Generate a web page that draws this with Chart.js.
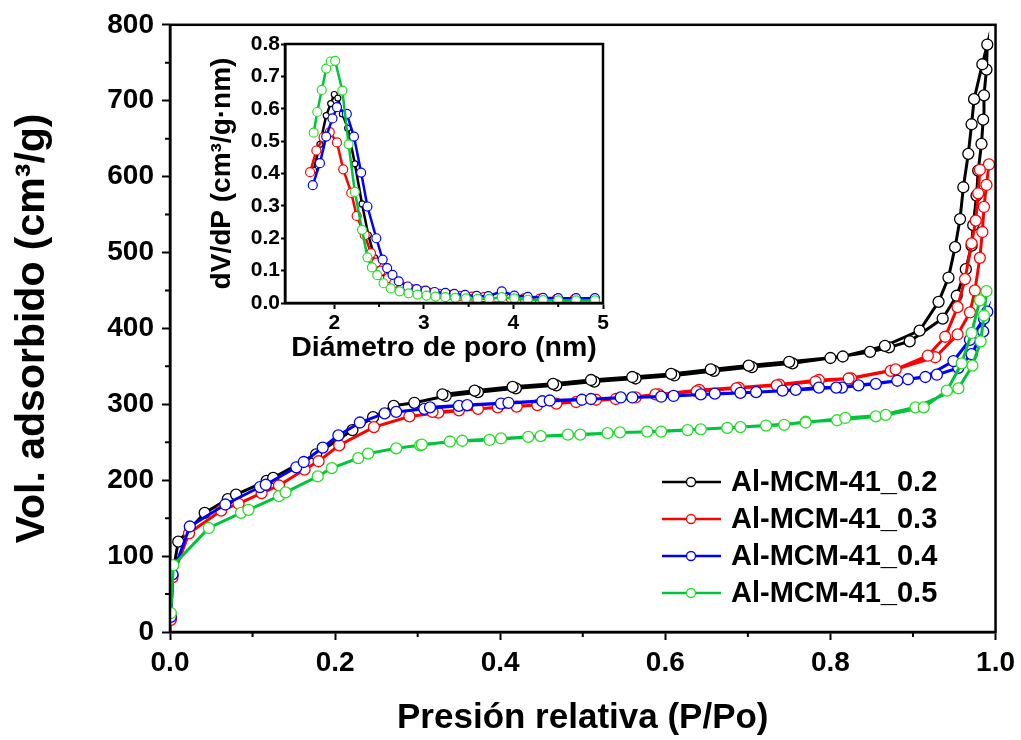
<!DOCTYPE html>
<html>
<head>
<meta charset="utf-8">
<script src="https://cdn.jsdelivr.net/npm/chart.js@4.4.1/dist/chart.umd.min.js"></script>
<style>
  body { margin: 0; background: #fff; }
  #wrap { position: relative; width: 1021px; height: 740px; }
  #mainChart { position: absolute; left: 0; top: 0; }
  #poreChart { position: absolute; left: 190px; top: 28px; }
</style>
</head>
<body>
<div id="wrap">
  <canvas id="mainChart" width="1021" height="740"></canvas>
  <canvas id="poreChart" width="430" height="345"></canvas>
</div>
<script>
// isotherms: adsorption branch (rising) and desorption branch (falling)
const labels = ['Al-MCM-41_0.2', 'Al-MCM-41_0.3', 'Al-MCM-41_0.4', 'Al-MCM-41_0.5']
const lineColors = ['#000000', '#ff0000', '#0000ff', '#00c43c']
const markColors = ['#000000', '#ff0000', '#0000ff', '#22e022']

const pAds02 = [0.001, 0.003, 0.01, 0.042, 0.07, 0.08, 0.117, 0.125, 0.177, 0.221, 0.246, 0.271, 0.296, 0.334, 0.373, 0.419, 0.468, 0.514, 0.564, 0.611, 0.659, 0.705, 0.754, 0.8, 0.848, 0.871, 0.896, 0.936, 0.953, 0.964, 0.971, 0.973, 0.977, 0.979, 0.983, 0.985, 0.986, 0.989, 0.99]
const vAds02 = [18, 75, 119, 157, 175, 181, 199, 203, 234, 266, 283, 298, 302, 311, 316, 321, 325, 330, 334, 338, 344, 349, 354, 361, 369, 375, 383, 413, 443, 478, 509, 536, 575, 608, 643, 675, 707, 741, 774]
const pDes02 = [0.984, 0.974, 0.971, 0.967, 0.961, 0.957, 0.951, 0.943, 0.931, 0.908, 0.866, 0.815, 0.75, 0.701, 0.655, 0.607, 0.56, 0.51, 0.464, 0.415, 0.369, 0.33]
const vDes02 = [748, 702, 669, 630, 586, 544, 507, 467, 435, 397, 377, 363, 356, 351, 346, 340, 336, 332, 327, 323, 318, 313]

const pAds03 = [0.001, 0.003, 0.023, 0.062, 0.083, 0.111, 0.132, 0.163, 0.18, 0.205, 0.247, 0.29, 0.325, 0.373, 0.42, 0.468, 0.516, 0.564, 0.592, 0.641, 0.689, 0.738, 0.786, 0.825, 0.873, 0.927, 0.954, 0.969, 0.975, 0.981, 0.984, 0.986, 0.989, 0.992]
const vAds03 = [16, 72, 130, 160, 169, 183, 193, 214, 225, 246, 270, 284, 289, 294, 297, 301, 306, 309, 313, 319, 322, 326, 332, 334, 344, 362, 392, 421, 450, 493, 527, 560, 589, 616]
const pDes03 = [0.981, 0.979, 0.976, 0.971, 0.963, 0.954, 0.939, 0.918, 0.879, 0.822, 0.782, 0.735, 0.686, 0.638, 0.588, 0.54, 0.492, 0.445, 0.397, 0.35, 0.318]
const vDes03 = [609, 578, 542, 512, 465, 428, 389, 364, 346, 334, 330, 325, 321, 317, 313, 307, 303, 299, 296, 292, 290]

const pAds04 = [0.001, 0.003, 0.024, 0.067, 0.109, 0.116, 0.153, 0.162, 0.185, 0.204, 0.23, 0.26, 0.274, 0.308, 0.35, 0.401, 0.451, 0.499, 0.546, 0.595, 0.643, 0.691, 0.742, 0.786, 0.814, 0.855, 0.894, 0.929, 0.955, 0.971, 0.985, 0.99]
const vAds04 = [20, 76, 139, 168, 191, 194, 217, 224, 243, 259, 276, 288, 290, 294, 298, 301, 304, 306, 309, 310, 313, 315, 318, 322, 322, 327, 333, 339, 348, 366, 396, 422]
const pDes04 = [0.986, 0.969, 0.949, 0.915, 0.881, 0.834, 0.807, 0.758, 0.71, 0.66, 0.61, 0.56, 0.51, 0.46, 0.41, 0.36, 0.315]
const vDes04 = [413, 385, 357, 336, 331, 325, 322, 319, 316, 314, 311, 309, 307, 305, 302, 299, 296]

const pAds05 = [0.001, 0.004, 0.047, 0.086, 0.095, 0.132, 0.14, 0.179, 0.196, 0.228, 0.24, 0.274, 0.303, 0.339, 0.387, 0.434, 0.482, 0.53, 0.578, 0.643, 0.691, 0.744, 0.77, 0.808, 0.855, 0.903, 0.955, 0.972, 0.982, 0.986, 0.989]
const vAds05 = [25, 88, 137, 157, 161, 179, 184, 205, 216, 229, 235, 242, 246, 251, 253, 257, 260, 262, 264, 267, 270, 273, 277, 279, 284, 296, 321, 351, 383, 417, 449]
const pDes05 = [0.981, 0.971, 0.959, 0.941, 0.913, 0.867, 0.818, 0.77, 0.722, 0.675, 0.627, 0.595, 0.545, 0.497, 0.449, 0.401, 0.354, 0.305]
const vDes05 = [437, 394, 354, 318, 296, 286, 282, 276, 272, 269, 266, 264, 263, 260, 258, 255, 252, 247]

// pore size distribution (inset)
const dPore02 = [1.77, 1.84, 1.91, 1.96, 2.0, 2.04, 2.09, 2.15, 2.23, 2.31, 2.38, 2.45, 2.52, 2.6, 2.7, 2.8, 2.9, 3.0, 3.12, 3.24, 3.35, 3.47, 3.6, 3.73, 3.87, 4.01, 4.16, 4.33, 4.5, 4.7, 4.91]
const dvdp02 = [0.41, 0.49, 0.579, 0.616, 0.644, 0.633, 0.584, 0.54, 0.43, 0.306, 0.21, 0.14, 0.093, 0.074, 0.058, 0.048, 0.04, 0.035, 0.031, 0.028, 0.025, 0.022, 0.02, 0.018, 0.022, 0.018, 0.014, 0.012, 0.011, 0.01, 0.01]
const dPore03 = [1.73, 1.8, 1.88, 1.95, 2.03, 2.1, 2.19, 2.25, 2.34, 2.41, 2.47, 2.52, 2.6, 2.67, 2.76, 2.86, 2.96, 3.06, 3.17, 3.29, 3.41, 3.54, 3.67, 3.82, 3.97, 4.12, 4.29, 4.48, 4.68, 4.9]
const dvdp03 = [0.404, 0.471, 0.512, 0.528, 0.496, 0.413, 0.34, 0.269, 0.21, 0.154, 0.125, 0.1, 0.077, 0.062, 0.051, 0.043, 0.037, 0.032, 0.028, 0.025, 0.022, 0.02, 0.018, 0.017, 0.015, 0.014, 0.013, 0.012, 0.012, 0.012]
const dPore04 = [1.76, 1.84, 1.91, 1.98, 2.03, 2.14, 2.22, 2.3, 2.37, 2.47, 2.54, 2.59, 2.65, 2.72, 2.82, 2.92, 3.02, 3.12, 3.24, 3.34, 3.46, 3.59, 3.72, 3.87, 4.01, 4.16, 4.33, 4.5, 4.7, 4.91]
const dvdp04 = [0.364, 0.432, 0.514, 0.57, 0.605, 0.584, 0.514, 0.403, 0.298, 0.2, 0.134, 0.108, 0.087, 0.067, 0.051, 0.043, 0.038, 0.034, 0.031, 0.028, 0.025, 0.022, 0.021, 0.036, 0.023, 0.019, 0.016, 0.015, 0.015, 0.015]
const dPore05 = [1.77, 1.81, 1.86, 1.91, 1.96, 2.01, 2.09, 2.16, 2.23, 2.31, 2.37, 2.42, 2.48, 2.55, 2.63, 2.73, 2.83, 2.93, 3.03, 3.13, 3.24, 3.35, 3.47, 3.6, 3.73, 3.87, 4.01, 4.16, 4.33, 4.5, 4.7, 4.91]
const dvdp05 = [0.526, 0.59, 0.658, 0.724, 0.746, 0.748, 0.656, 0.49, 0.343, 0.226, 0.141, 0.11, 0.086, 0.061, 0.045, 0.036, 0.03, 0.026, 0.023, 0.02, 0.018, 0.016, 0.014, 0.013, 0.013, 0.018, 0.014, 0.01, 0.009, 0.008, 0.008, 0.008]

const FONT = '"Liberation Sans", Arial, sans-serif'

function toPoints(xs, ys) {
  return xs.map((x, i) => ({ x: x, y: ys[i] }))
}

// one path per sample: up the adsorption branch, back down the desorption branch
const isotherms = [
  [pAds02, vAds02, pDes02, vDes02],
  [pAds03, vAds03, pDes03, vDes03],
  [pAds04, vAds04, pDes04, vDes04],
  [pAds05, vAds05, pDes05, vDes05],
]
const pores = [[dPore02, dvdp02], [dPore03, dvdp03], [dPore04, dvdp04], [dPore05, dvdp05]]

// box around the plot area plus the unlabeled minor ticks
function framePlugin(minorX, minorY, minorLen) {
  return {
    id: 'frame',
    afterDraw(chart) {
      const { ctx, chartArea: a, scales } = chart
      ctx.save()
      ctx.strokeStyle = '#000'
      ctx.lineWidth = 2.5
      ctx.strokeRect(a.left, a.top, a.right - a.left, a.bottom - a.top)
      ctx.lineWidth = 2
      ctx.beginPath()
      minorX.forEach(v => {
        const px = scales.x.getPixelForValue(v)
        ctx.moveTo(px, a.bottom)
        ctx.lineTo(px, a.bottom + minorLen)
      })
      minorY.forEach(v => {
        const py = scales.y.getPixelForValue(v)
        ctx.moveTo(a.left, py)
        ctx.lineTo(a.left - minorLen, py)
      })
      ctx.stroke()
      ctx.restore()
    }
  }
}

const legendBox = {
  id: 'legendBox',
  afterDraw(chart) {
    const ctx = chart.ctx
    ctx.save()
    ctx.font = 'bold 29px ' + FONT
    ctx.textBaseline = 'middle'
    chart.data.datasets.forEach((ds, i) => {
      const y = 482 + i * 37
      ctx.strokeStyle = ds.borderColor
      ctx.lineWidth = 2.5
      ctx.beginPath()
      ctx.moveTo(662, y)
      ctx.lineTo(721, y)
      ctx.stroke()
      ctx.fillStyle = '#fff'
      ctx.strokeStyle = ds.pointBorderColor
      ctx.lineWidth = 1.3
      ctx.beginPath()
      ctx.arc(691, y, 4.5, 0, Math.PI * 2)
      ctx.fill()
      ctx.stroke()
      ctx.fillStyle = '#000'
      ctx.fillText(ds.label, 731, y + 1)
    })
    ctx.restore()
  }
}

function axis(min, max, step, fmt, size, tickLen, pad) {
  return {
    type: 'linear', min: min, max: max,
    border: { color: '#000', width: 2.5 },
    grid: { drawOnChartArea: false, tickLength: tickLen, tickWidth: 2, tickColor: '#000' },
    ticks: {
      stepSize: step, padding: pad, color: '#000',
      font: { family: FONT, size: size, weight: 'bold' },
      callback: fmt
    }
  }
}

const mainX = axis(0, 1, 0.2, v => v.toFixed(1), 28, 8, 6)
mainX.afterFit = s => { s.height = 108 }
mainX.title = { display: true, text: 'Presión relativa (P/Po)', color: '#000', padding: { top: 0, bottom: 1 }, font: { family: FONT, size: 35, weight: 'bold' } }
const mainY = axis(0, 800, 100, v => v, 28, 8, 8)
mainY.afterFit = s => { s.width = 170 }
mainY.title = { display: true, text: 'Vol. adsorbido (cm³/g)', color: '#000', padding: { top: 8, bottom: 0 }, font: { family: FONT, size: 41, weight: 'bold' } }

new Chart(document.getElementById('mainChart'), {
  type: 'scatter',
  data: {
    datasets: isotherms.map((s, i) => ({
      label: labels[i],
      data: toPoints(s[0], s[1]).concat(toPoints(s[2], s[3])),
      showLine: true,
      borderColor: lineColors[i],
      borderWidth: 3,
      tension: 0,
      pointRadius: 5.5,
      pointBorderWidth: 1.3,
      pointBackgroundColor: '#fff',
      pointBorderColor: markColors[i],
      order: 3 - i
    }))
  },
  options: {
    responsive: false,
    animation: false,
    events: [],
    layout: { padding: { top: 24, right: 24, left: 0, bottom: 0 } },
    plugins: { legend: { display: false }, tooltip: { enabled: false } },
    scales: { x: mainX, y: mainY }
  },
  plugins: [framePlugin([0.1, 0.3, 0.5, 0.7, 0.9], [50, 150, 250, 350, 450, 550, 650, 750], 5), legendBox]
})

const poreX = axis(1.45, 5, 1, v => v, 21, 6, 2)
poreX.afterBuildTicks = s => { s.ticks = [2, 3, 4, 5].map(v => ({ value: v })) }
poreX.afterFit = s => { s.height = 70 }
poreX.title = { display: true, text: 'Diámetro de poro (nm)', color: '#000', padding: { top: 0, bottom: 8 }, font: { family: FONT, size: 28.5, weight: 'bold' } }
const poreY = axis(0, 0.8, 0.1, v => v.toFixed(1), 21, 4, 1)
poreY.afterFit = s => { s.width = 95 }
poreY.title = { display: true, text: 'dV/dP (cm³/g·nm)', color: '#000', padding: { top: 15, bottom: 0 }, font: { family: FONT, size: 28, weight: 'bold' } }

new Chart(document.getElementById('poreChart'), {
  type: 'scatter',
  data: {
    datasets: pores.map((s, i) => ({
      label: labels[i],
      data: toPoints(s[0], s[1]),
      showLine: true,
      borderColor: lineColors[i],
      borderWidth: 2.5,
      tension: 0,
      pointRadius: i === 0 ? 3 : 4.5,
      pointBorderWidth: 1.2,
      pointBackgroundColor: '#fff',
      pointBorderColor: markColors[i],
      order: 3 - i
    }))
  },
  options: {
    responsive: false,
    animation: false,
    events: [],
    layout: { padding: { top: 16, right: 17, left: 0, bottom: 0 } },
    plugins: { legend: { display: false }, tooltip: { enabled: false } },
    scales: { x: poreX, y: poreY }
  },
  plugins: [framePlugin([2.5, 3.5, 4.5], [], 4)]
})
</script>
</body>
</html>
